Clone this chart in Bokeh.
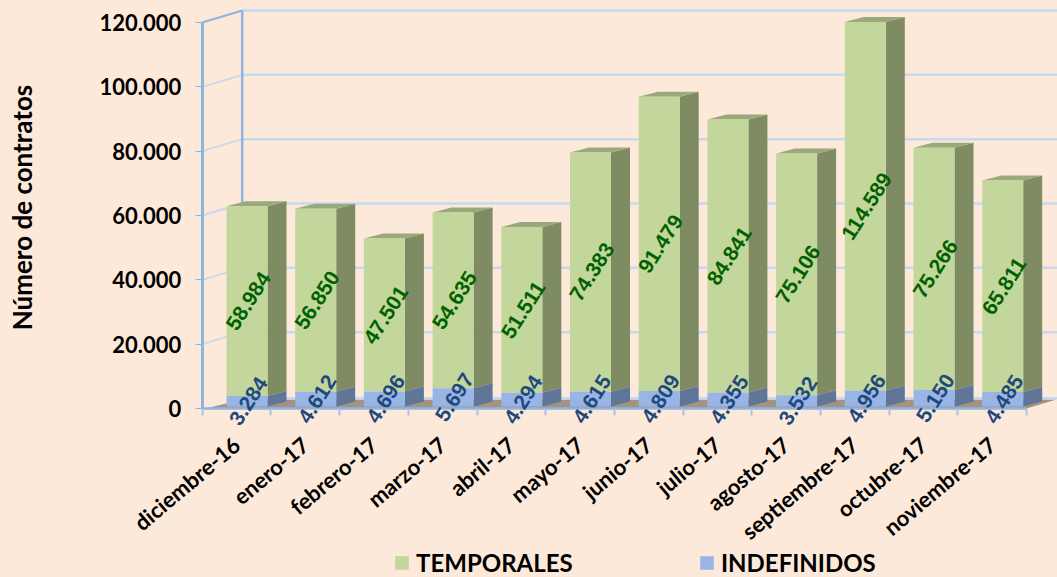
import math
from bokeh.plotting import figure
from bokeh.embed import file_html
from bokeh.resources import INLINE
from bokeh.models import FixedTicker, Legend, LegendItem, Range1d
from bokeh.core.properties import value

months = ["diciembre-16","enero-17","febrero-17","marzo-17","abril-17","mayo-17","junio-17","julio-17","agosto-17","septiembre-17","octubre-17","noviembre-17"]
indefinidos = [3284,4612,4696,5697,4294,4615,4809,4355,3532,4956,5150,4485]
temporales = [58984,56850,47501,54635,51511,74383,91479,84841,75106,114589,75266,65811]
grid_values = [0,20000,40000,60000,80000,100000,120000]
y_labels = ["0","20.000","40.000","60.000","80.000","100.000","120.000"]

BG = "#FDE9D9"
W, H = 1057, 577
X0, Y0 = 201.7, 408      # pixel position of the axes' origin
PXX = 68.7
PXY = 386 / 120000

# 3D projection constants, converted from pixels to data units
wall_dx, wall_dy = 40 / PXX, 12 / PXY
bar_dx, bar_dy = 19 / PXX, 5 / PXY
bar_w = 41 / PXX
bar_l = 24.3 / PXX
base = 2 / PXY

p = figure(width=W, height=H, output_backend="svg", toolbar_location=None,
           x_range=Range1d(-X0 / PXX, (W - X0) / PXX),
           y_range=Range1d(-(H - Y0) / PXY, Y0 / PXY),
           min_border=0,
           background_fill_color=BG, border_fill_color=BG, outline_line_color=None)
p.grid.visible = False

# Walls and floor
xmax = (W - X0) / PXX
floor_end = (1056 - X0) / PXX
p.patch([0.05, wall_dx, floor_end, 12.0], [0, wall_dy * 0.75, wall_dy * 0.75, 0], fill_color="#A39382", line_color=None)
for v in grid_values[1:]:
    c = "#C6D9F1"
    p.segment([0], [v], [wall_dx], [v + wall_dy], line_color=c if v < 120000 else "#8EB4E3", line_width=2)
    p.segment([wall_dx], [v + wall_dy], [xmax], [v + wall_dy], line_color=c, line_width=2.5)
p.segment([wall_dx], [wall_dy * 0.85], [xmax], [wall_dy * 0.85], line_color="#C6D9F1", line_width=2.5)
p.segment([wall_dx], [wall_dy], [wall_dx], [120000 + wall_dy], line_color="#8EB4E3", line_width=2.5)

# Bars
lefts = [i + bar_l for i in range(len(months))]
rights = [x + bar_w for x in lefts]
mids = [x + bar_w / 2 + 1.5 / PXX for x in lefts]
tops_b = [base + v for v in indefinidos]
tops_g = [b + v for b, v in zip(tops_b, temporales)]

def side(y0, y1):
    xs = [[r, r + bar_dx, r + bar_dx, r] for r in rights]
    ys = [[a, a + bar_dy, b + bar_dy, b] for a, b in zip(y0, y1)]
    return xs, ys

xs, ys = side(tops_b, tops_g)
p.patches(xs, ys, fill_color="#7F8B62", line_color=None)
xs, ys = side([base] * 12, tops_b)
p.patches(xs, ys, fill_color="#5F7698", line_color=None)
p.patches([[l, l + bar_dx, r + bar_dx, r] for l, r in zip(lefts, rights)],
          [[t, t + bar_dy, t + bar_dy, t] for t in tops_g],
          fill_color="#9BA87B", line_color=None)
green = p.quad(left=lefts, right=rights, bottom=tops_b, top=tops_g, fill_color="#C3D69B", line_color=None)
blue = p.quad(left=lefts, right=rights, bottom=[base] * 12, top=tops_b, fill_color="#98B5E6", line_color=None)

# Data labels
p.text(mids, [(a + b) / 2 for a, b in zip(tops_b, tops_g)],
       text=[f"{v:,}".replace(",", ".") for v in temporales], angle=1.0,
       text_align="center", text_baseline="middle", text_color="#006100",
       text_font=value("Liberation Sans"), text_font_size="21px", text_font_style="bold", level="annotation")
p.text(mids, [base + v / 2 for v in indefinidos],
       text=[f"{v:,}".replace(",", ".") for v in indefinidos], angle=1.0,
       text_align="center", text_baseline="middle", text_color="#1F497D",
       text_font=value("Liberation Sans"), text_font_size="21px", text_font_style="bold", level="annotation")

# Axis title
p.text([(21 - X0) / PXX], [(Y0 - 207) / PXY], text=["Número de contratos"], angle=math.pi / 2,
       text_align="center", text_baseline="middle", text_color="#000000",
       text_font=value("Lato"), text_font_size="26px", text_font_style="bold")

# Axes
ya = p.yaxis[0]
ya.fixed_location = 0
ya.bounds = (0, 120000)
ya.ticker = FixedTicker(ticks=grid_values)
ya.major_label_overrides = dict(zip(grid_values, y_labels))
ya.axis_line_color = "#8EB4E3"
ya.axis_line_width = 3
ya.major_tick_line_color = "#8EB4E3"
ya.major_tick_in = 0
ya.major_tick_out = 7
ya.minor_tick_out = 0
ya.minor_tick_in = 0
ya.major_label_text_font = "Lato"
ya.major_label_text_font_style = "bold"
ya.major_label_text_font_size = "22px"
ya.major_label_text_color = "#000000"
ya.major_label_standoff = 14

xa = p.xaxis[0]
xa.fixed_location = 0
xa.bounds = (0, 12)
xa.ticker = FixedTicker(ticks=[i + 0.5 for i in range(12)], minor_ticks=list(range(13)))
xa.major_label_overrides = {i + 0.5: m for i, m in enumerate(months)}
xa.major_label_orientation = 0.70
xa.axis_line_color = "#8EB4E3"
xa.axis_line_width = 2.5
xa.major_tick_in = 0
xa.major_tick_out = 0
xa.minor_tick_in = 0
xa.minor_tick_out = 7
xa.minor_tick_line_color = "#A9C4E8"
xa.minor_tick_line_width = 2
xa.major_label_text_font = "Lato"
xa.major_label_text_font_style = "bold"
xa.major_label_text_font_size = "22px"
xa.major_label_text_color = "#000000"
xa.major_label_standoff = 26

# Legend
for label, rend, px in (("TEMPORALES", green, 393), ("INDEFINIDOS", blue, 698)):
    lg = Legend(items=[LegendItem(label=label, renderers=[rend])],
                location=(px, 0),
                background_fill_alpha=0, border_line_color=None, padding=0, margin=0,
                glyph_width=17, glyph_height=17, label_standoff=6,
                label_text_font="Lato", label_text_font_style="bold",
                label_text_font_size="24px", label_text_color="#000000",
                label_height=17)
    p.add_layout(lg, "center")

html = file_html(p, INLINE)
html = html.replace("<head>", "<head><style>html,body{background:#FDE9D9;overflow:hidden;margin:0}</style>", 1)
open("out.html", "w").write(html)
